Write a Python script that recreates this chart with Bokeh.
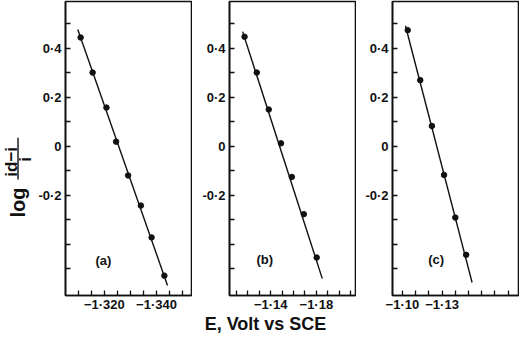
from math import pi
from bokeh.plotting import figure
from bokeh.models import Range1d, FixedTicker, CustomJSTickFormatter, Label
from bokeh.layouts import row, column
from bokeh.core.properties import value
from bokeh.embed import file_html
from bokeh.resources import INLINE

# ---------------- data ----------------
# panel (a)
a_E = [-1.3109, -1.3155, -1.3208, -1.3245, -1.3291, -1.3340, -1.3381, -1.3430]
a_log = [0.443, 0.300, 0.157, 0.018, -0.120, -0.243, -0.373, -0.529]
a_fit_E = [-1.3098, -1.3442]
a_fit_log = [0.476, -0.569]
a_ticks = [-1.320, -1.340]
a_minor = [-1.310, -1.315, -1.325, -1.330, -1.335, -1.345, -1.350]
a_labels = ["\u22121\u00b7320", "\u22121\u00b7340"]

# panel (b)
b_E = [-1.1171, -1.1278, -1.1383, -1.1490, -1.1585, -1.1690, -1.1803]
b_log = [0.446, 0.300, 0.149, 0.011, -0.126, -0.278, -0.455]
b_fit_E = [-1.1154, -1.1852]
b_fit_log = [0.467, -0.541]
b_ticks = [-1.14, -1.18]
b_minor = [-1.11, -1.12, -1.13, -1.15, -1.16, -1.17, -1.19, -1.20, -1.21]
b_labels = ["\u22121\u00b714", "\u22121\u00b718"]

# panel (c)
c_E = [-1.1040, -1.1135, -1.1223, -1.1315, -1.1400, -1.1482]
c_log = [0.473, 0.269, 0.082, -0.118, -0.292, -0.444]
c_fit_E = [-1.1023, -1.1527]
c_fit_log = [0.491, -0.557]
c_ticks = [-1.10, -1.13]
c_minor = [-1.11, -1.12, -1.14, -1.15, -1.16, -1.17, -1.18]
c_labels = ["\u22121\u00b710", "\u22121\u00b713"]

# shared y axis
y_ticks = [0.4, 0.2, 0.0, -0.2]
y_minor = [0.5, 0.3, 0.1, -0.1, -0.3, -0.4, -0.5]
y_labels = ["0\u00b74", "0\u00b72", "0", "-0\u00b72"]
Y_RANGE = (-0.610, 0.590)

# ---------------- styling ----------------
FONT = "Liberation Sans"
INK = "#111111"
FW, FH = 126, 294          # frame size of each panel
BT, BB = 1, 17             # top / bottom borders of the panels

FMT_CODE = """
let best = 0, d = Infinity;
for (let i = 0; i < tk.length; i++) {
    const e = Math.abs(tk[i] - tick);
    if (e < d) { d = e; best = i; }
}
return lb[best];
"""


def fmt(ticks, labels):
    return CustomJSTickFormatter(args=dict(tk=ticks, lb=labels), code=FMT_CODE)


def style_axis(ax):
    ax.axis_label = None
    ax.axis_line_color = INK
    ax.axis_line_width = 1.6
    ax.major_tick_line_color = INK
    ax.minor_tick_line_color = INK
    ax.major_tick_line_width = 1.3
    ax.minor_tick_line_width = 1.3
    ax.major_tick_in = 5
    ax.major_tick_out = 0
    ax.minor_tick_in = 5
    ax.minor_tick_out = 0
    ax.major_label_text_font = FONT
    ax.major_label_text_font_style = "bold"
    ax.major_label_text_font_size = "13px"
    ax.major_label_text_color = INK


def panel(E, logv, fitE, fitlog, xr, xt, xm, xl, tag, tag_xy, left):
    p = figure(frame_width=FW, frame_height=FH, title=None,
               x_range=Range1d(*xr), y_range=Range1d(*Y_RANGE),
               output_backend="svg", toolbar_location=None,
               min_border_left=left, min_border_right=1,
               min_border_top=BT, min_border_bottom=BB,
               background_fill_color="white", border_fill_color="white")
    p.grid.visible = False
    p.outline_line_color = INK
    p.outline_line_width = 1.6
    p.xaxis.ticker = FixedTicker(ticks=xt, minor_ticks=xm)
    p.xaxis.formatter = fmt(xt, xl)
    p.yaxis.ticker = FixedTicker(ticks=y_ticks, minor_ticks=y_minor)
    p.yaxis.formatter = fmt(y_ticks, y_labels)
    style_axis(p.xaxis[0])
    style_axis(p.yaxis[0])
    p.xaxis.major_label_standoff = 1
    p.yaxis.major_label_standoff = 4
    p.line(fitE, fitlog, line_color=INK, line_width=1.4)
    p.scatter(E, logv, marker="circle", size=5.5, color=INK)
    p.add_layout(Label(x=tag_xy[0], y=tag_xy[1], text=tag, text_align="center",
                       text_baseline="middle", text_font=FONT,
                       text_font_style="bold", text_font_size="13px",
                       text_color=INK))
    return p


pa = panel(a_E, a_log, a_fit_E, a_fit_log, (-1.3051, -1.3534), a_ticks, a_minor,
           a_labels, "(a)", (-1.3196, -0.467), 27)
pb = panel(b_E, b_log, b_fit_E, b_fit_log, (-1.1039, -1.2143), b_ticks, b_minor,
           b_labels, "(b)", (-1.1348, -0.463), 37)
pc = panel(c_E, c_log, c_fit_E, c_fit_log, (-1.0925, -1.1878), c_ticks, c_minor,
           c_labels, "(c)", (-1.1255, -0.463), 36)

# ---- y-axis title  log (id−i)/i : a narrow strip sharing the panels' y scale ----
YW = 35
yl = figure(frame_width=YW, frame_height=FH, title=None,
            x_range=Range1d(0, YW), y_range=Range1d(*Y_RANGE),
            x_axis_location=None, y_axis_location=None,
            min_border_left=0, min_border_right=0,
            min_border_top=BT, min_border_bottom=BB,
            outline_line_color=None, toolbar_location=None, output_backend="svg")
yl.grid.visible = False
# text runs upward from its anchor (start of text), centred across its height
common = dict(angle=pi / 2, text_align="left", text_baseline="middle",
              text_font=value(FONT), text_font_style="bold", text_color=INK)
yl.text(x=[17], y=[-0.292], text=["log"], text_font_size="20px", **common)
yl.text(x=[11], y=[-0.125], text=["id\u2212i"], text_font_size="17px", **common)
yl.text(x=[25], y=[-0.064], text=["i"], text_font_size="17px", **common)
yl.segment(x0=[17.5], y0=[0.034], x1=[17.5], y1=[-0.137], line_color=INK,
           line_width=1.4)

# ---- x-axis title strip ----
TW, TH = 516, 19
xl = figure(frame_width=TW, frame_height=TH, title=None,
            x_range=Range1d(0, TW), y_range=Range1d(0, TH),
            x_axis_location=None, y_axis_location=None, min_border=0,
            outline_line_color=None, toolbar_location=None, output_backend="svg")
xl.grid.visible = False
xl.text(x=[265], y=[9.5], text=["E, Volt vs SCE"], text_align="center",
        text_baseline="middle", text_font=value(FONT), text_font_style="bold",
        text_font_size="18px", text_color=INK)

layout = column(row(yl, pa, pb, pc), xl)

open("out.html", "w").write(file_html(layout, INLINE))
